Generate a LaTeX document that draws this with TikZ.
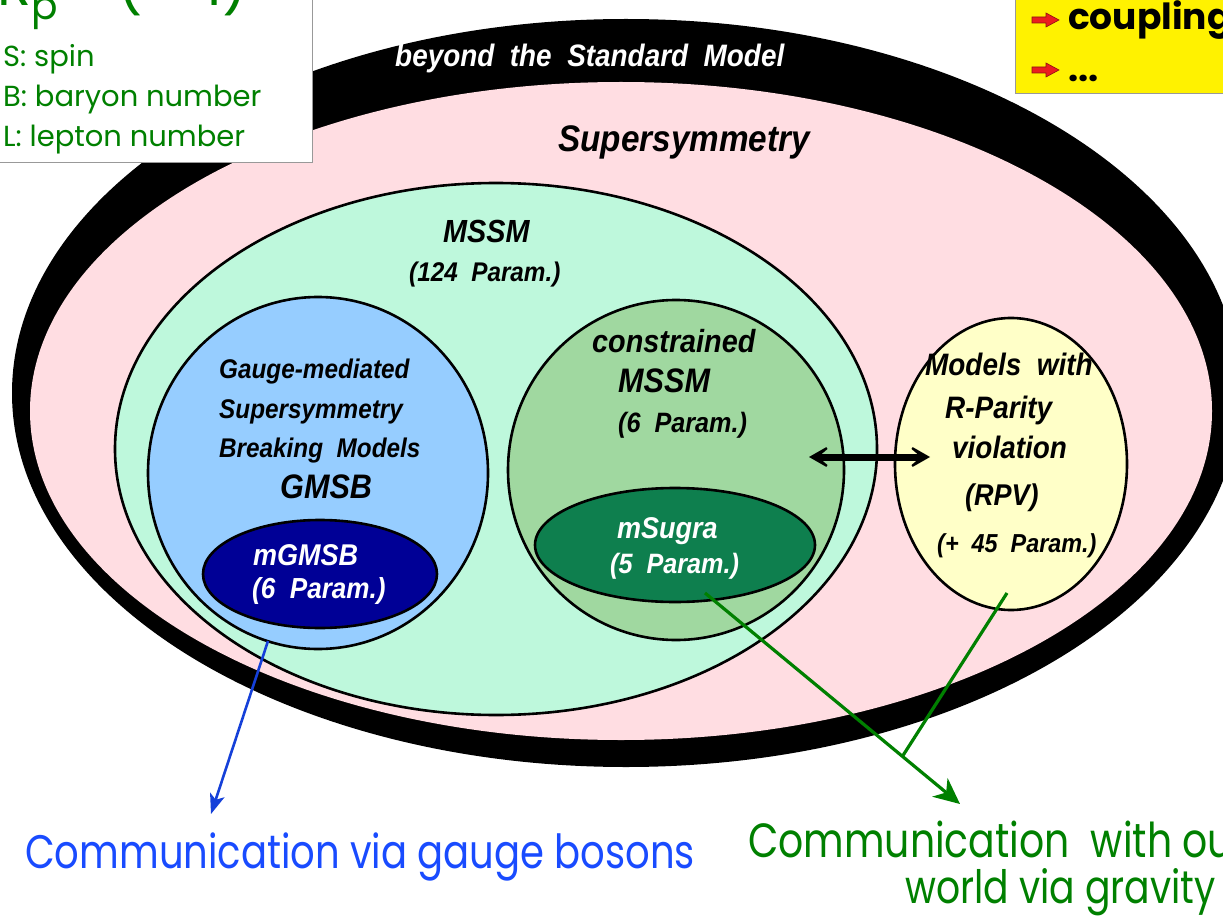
\documentclass[tikz,border=0pt]{standalone}
\usepackage{fontspec}
\setmainfont{Liberation Sans}
\newfontfamily\bubblefont[FakeStretch=0.9]{Liberation Sans}
\newfontfamily\gothfont[FakeStretch=0.82]{Poppins}
\newfontfamily\listfont{Poppins}
\usetikzlibrary{arrows.meta}

\definecolor{susypink}{RGB}{255,221,226}
\definecolor{mssmmint}{RGB}{190,248,220}
\definecolor{gmsbblue}{RGB}{150,205,255}
\definecolor{mgmsbnavy}{RGB}{0,0,150}
\definecolor{cmssmgreen}{RGB}{160,216,160}
\definecolor{sugragreen}{RGB}{14,127,78}
\definecolor{rpvyellow}{RGB}{255,255,200}
\definecolor{textgreen}{RGB}{0,128,0}
\definecolor{textblue}{RGB}{25,75,255}
\definecolor{bulletred}{RGB}{235,30,30}

\newcommand{\fsz}[1]{\fontsize{#1}{#1}\selectfont}

\tikzset{
  ring/.style={draw=black, line width=2.6pt},
  bubble/.style={font=\bubblefont\bfseries\itshape, inner sep=0pt, anchor=base west},
  goth/.style={font=\gothfont, inner sep=0pt, anchor=base west},
  bullet/.style={fill=bulletred, draw=bulletred!60!black, line width=0.6pt},
  barbtip/.tip={Stealth[length=28pt,width=32pt,inset=19pt]}
}

\begin{document}
\begin{tikzpicture}[x=1pt,y=1pt,yscale=-1]
\useasboundingbox (0,0) rectangle (1223,917);
\clip (0,0) rectangle (1223,917);

%Shape: Ellipse [beyond the SM]
\fill [black] (626,393) ellipse [x radius=614, y radius=374];
%Shape: Ellipse [SUSY]
\fill [susypink] (621,411) ellipse [x radius=591, y radius=329];
%Shape: Ellipse [MSSM]
\draw [ring, fill=mssmmint] (496,449) ellipse [x radius=381, y radius=266];
%Shape: Ellipse [GMSB]
\draw [ring, fill=gmsbblue] (318,473) ellipse [x radius=170, y radius=176];
%Shape: Ellipse [mGMSB]
\draw [ring, fill=mgmsbnavy] (320,574) ellipse [x radius=117, y radius=54];
%Shape: Ellipse [cMSSM]
\draw [ring, fill=cmssmgreen] (676,470) ellipse [x radius=168, y radius=170];
%Shape: Ellipse [mSugra]
\draw [ring, fill=sugragreen] (675,545) ellipse [x radius=140, y radius=57];
%Shape: Ellipse [RPV]
\draw [ring, fill=rpvyellow] (1011,464) ellipse [x radius=116, y radius=146];

% Text Node
\node [bubble, white, font=\bubblefont\bfseries\itshape\fsz{31}] (bsm) at (395,67) {beyond~~the~~Standard~~Model};
% Text Node
\node [bubble, font=\bubblefont\bfseries\itshape\fsz{37}] (susy) at (558,152) {Supersymmetry};
% Text Node
\node [bubble, font=\bubblefont\bfseries\itshape\fsz{32}] (mssm) at (443,243) {MSSM};
\node [bubble, font=\bubblefont\bfseries\itshape\fsz{27}] (mssmpar) at (409,282) {(124~~Param.)};
% Text Node
\node [bubble, font=\bubblefont\bfseries\itshape\fsz{27}] (gmsbA) at (219,378) {Gauge-mediated};
\node [bubble, font=\bubblefont\bfseries\itshape\fsz{27}] (gmsbB) at (219,418) {Supersymmetry};
\node [bubble, font=\bubblefont\bfseries\itshape\fsz{27}] (gmsbC) at (219,457) {Breaking~~Models};
\node [bubble, font=\bubblefont\bfseries\itshape\fsz{34}] (gmsb) at (280,498) {GMSB};
% Text Node
\node [bubble, white, font=\bubblefont\bfseries\itshape\fsz{30}] (mgmsb) at (253,565) {mGMSB};
\node [bubble, white, font=\bubblefont\bfseries\itshape\fsz{29}] (mgmsbpar) at (252,598) {(6~~Param.)};
% Text Node
\node [bubble, font=\bubblefont\bfseries\itshape\fsz{32}] (cmssmA) at (592,352) {constrained};
\node [bubble, font=\bubblefont\bfseries\itshape\fsz{34}] (cmssm) at (618,392) {MSSM};
\node [bubble, font=\bubblefont\bfseries\itshape\fsz{28}] (cmssmpar) at (618,432) {(6~~Param.)};
% Text Node
\node [bubble, white, font=\bubblefont\bfseries\itshape\fsz{30}] (sugra) at (617,538) {mSugra};
\node [bubble, white, font=\bubblefont\bfseries\itshape\fsz{28}] (sugrapar) at (610,573) {(5~~Param.)};
% Text Node
\node [bubble, font=\bubblefont\bfseries\itshape\fsz{31}] (rpvA) at (925,375) {Models~~with};
\node [bubble, font=\bubblefont\bfseries\itshape\fsz{31}] (rpvB) at (945,418) {R-Parity};
\node [bubble, font=\bubblefont\bfseries\itshape\fsz{31}] (rpvC) at (952,458) {violation};
\node [bubble, font=\bubblefont\bfseries\itshape\fsz{30}] (rpv) at (965,505) {(RPV)};
\node [bubble, font=\bubblefont\bfseries\itshape\fsz{26}] (rpvpar) at (937,552) {(+~~45~~Param.)};

%Double arrow cMSSM <-> RPV
\coordinate (cmssmend) at (809,457);
\coordinate (rpvend) at (930,457);
\draw [line width=7pt, {barbtip}-{barbtip}] (cmssmend) -- (rpvend);

%Arrow to gauge mediation
\coordinate (gmsbfoot) at (268,641);
\coordinate (gaugetip) at (211,814);
\draw [textblue!85!black, line width=2.6pt, -{Stealth[length=20pt,width=15pt,inset=5pt]}] (gmsbfoot) -- (gaugetip);

%Arrows to gravity mediation
\coordinate (sugrafoot) at (705,593);
\coordinate (rpvfoot) at (1007,593);
\coordinate (gravtip) at (960,804);
\coordinate (gravjoin) at (902,757);
\draw [textgreen, line width=3.2pt, -{Stealth[length=26pt,width=24pt,inset=8pt]}] (sugrafoot) -- (gravtip);
\draw [textgreen, line width=3.2pt] (rpvfoot) -- (gravjoin);

% Text Node
\node [goth, textblue, font=\gothfont\fsz{47}] (gaugetxt) at (25,868) {Communication via gauge bosons};
\node [goth, textgreen, font=\gothfont\fsz{48}] (gravtxtA) at (748,857) {Communication~~with our};
\node [goth, textgreen, font=\gothfont\fsz{46}] (gravtxtB) at (905,903) {world via gravity};

%Shape: Rectangle [R-parity box]
\draw [draw=black!40, fill=white, line width=0.8pt] (-5,-5) rectangle (312,162);
\node [goth, textgreen, font=\listfont\fsz{56}] (rparity) at (-3,6) {R\textsubscript{p}\,=\,(--1)};
\node [goth, textgreen, font=\listfont\fsz{29}] (spin) at (3,67) {S: spin};
\node [goth, textgreen, font=\listfont\fsz{29}] (baryon) at (3,107) {B: baryon number};
\node [goth, textgreen, font=\listfont\fsz{29}] (lepton) at (3,147) {L: lepton number};

%Shape: Rectangle [coupling box]
\draw [draw=black!40, fill=yellow, line width=0.8pt] (1015,-5) rectangle (1230,93);
\foreach \by in {20,70} {
  \draw [bullet] (1032,\by-3) -- (1046,\by-3) -- (1046,\by-7) -- (1059,\by) -- (1046,\by+7) -- (1046,\by+3) -- (1032,\by+3) -- cycle;
}
\node [goth, font=\listfont\bfseries\fsz{36}] (coupling) at (1068,30) {coupling};
\node [goth, font=\listfont\bfseries\fsz{36}] (dots) at (1068,82) {...};

\end{tikzpicture}
\end{document}
